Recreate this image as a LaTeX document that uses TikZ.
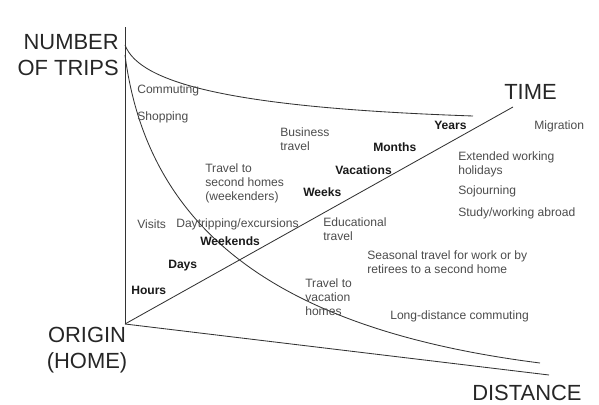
\documentclass[tikz,border=0pt]{standalone}
\usepackage{fontspec}
\setmainfont{Liberation Sans}
\usepackage{tikz}

\begin{document}
\begin{tikzpicture}[x=0.025cm,y=-0.025cm]
        \useasboundingbox (0,0) rectangle (599,405);
        \tikzset{trait/.style={line width=0.6pt,draw=black!80},
                 etiq/.style={anchor=west,inner sep=0pt,align=left,text=black!70,
                              font=\fontsize{8.6}{9.9}\selectfont},
                 duree/.style={etiq,text=black!90,font=\fontsize{8.6}{9.9}\selectfont\bfseries},
                 titre/.style={inner sep=0pt,text=black!85,font=\fontsize{15.6}{18.5}\selectfont}}
        % axes
        \coordinate (O) at (125,324);
        \coordinate (A) at (125,27);
        \coordinate (T) at (513,107);
        \coordinate (D) at (549,375);
        \coordinate (C1) at (125,45);
        \coordinate (C2) at (473,116);
        \coordinate (C3) at (125,55);
        \coordinate (C4) at (540,363);
        \node[titre,anchor=east,align=right] (NT) at (119,55) {NUMBER\\OF TRIPS};
        \node[titre,anchor=west] (TI) at (504,92) {TIME};
        \node[titre,align=center] (OH) at (87,350) {ORIGIN\\(HOME)};
        \node[titre,anchor=west] (DI) at (472,393) {DISTANCE};
        \draw[trait] (O) -- (A);
        \draw[trait] (O) -- (T);
        \draw[trait] (O) -- (D);
        \draw[trait] (C1) .. controls (140,85) and (240,108) .. (C2);
        \draw[trait] (C3) .. controls (148,232) and (280,330) .. (C4);
        % activities
        \node[etiq] (CO) at (137,90) {Commuting};
        \node[etiq] (SH) at (137,117) {Shopping};
        \node[etiq] (BT) at (280,139) {Business\\travel};
        \node[etiq] (TS) at (205,183) {Travel to\\second homes\\(weekenders)};
        \node[etiq] (VI) at (137,224) {Visits};
        \node[etiq] (DT) at (176,224) {Daytripping/excursions};
        \node[etiq] (ED) at (323,229) {Educational\\travel};
        \node[etiq] (ST) at (367,262) {Seasonal travel for work or by\\retirees to a second home};
        \node[etiq] (TV) at (305,297) {Travel to\\vacation\\homes};
        \node[etiq] (LD) at (390,316) {Long-distance commuting};
        \node[etiq] (MI) at (534,126) {Migration};
        \node[etiq] (EW) at (458,164) {Extended working\\holidays};
        \node[etiq] (SO) at (458,191) {Sojourning};
        \node[etiq] (SW) at (458,213) {Study/working abroad};
        % time scale
        \node[duree] (HO) at (131,290) {Hours};
        \node[duree] (DA) at (168,266) {Days};
        \node[duree] (WE) at (200,241) {Weekends};
        \node[duree] (WK) at (303,192) {Weeks};
        \node[duree] (VA) at (335,170) {Vacations};
        \node[duree] (MO) at (373,147) {Months};
        \node[duree] (YE) at (434,125) {Years};
\end{tikzpicture}
\end{document}
